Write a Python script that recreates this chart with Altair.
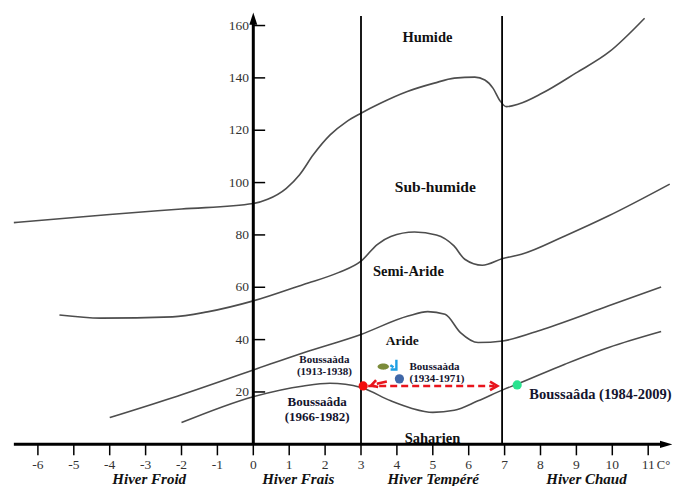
import altair as alt
import pandas as pd

# ---------------- data ----------------
c1_x = [-6.67, -4.0, -2.0, 0.0, 0.4, 0.92, 1.29, 1.67, 2.14, 2.6, 3.0, 3.54, 4.29, 5.04, 5.6, 6.17, 6.45, 6.68, 6.87, 7.05, 7.39, 8.04, 8.98, 9.92, 10.9]
c1_y = [84.7, 87.8, 89.9, 92.0, 93.6, 97.8, 103.0, 110.6, 118.2, 123.3, 126.5, 130.3, 134.8, 138.0, 139.9, 140.3, 139.2, 136.0, 131.3, 129.0, 130.0, 134.1, 141.8, 150.0, 162.8]

c2_x = [-5.4, -4.25, -2.25, -1.28, 0.0, 1.4, 2.37, 3.0, 3.46, 3.83, 4.49, 5.1, 5.59, 5.89, 6.38, 6.95, 7.47, 8.68, 9.9, 11.6]
c2_y = [49.4, 48.2, 48.7, 50.6, 54.8, 61.1, 65.6, 70.0, 76.4, 79.4, 81.1, 80.0, 75.8, 70.7, 68.4, 71.0, 72.6, 79.6, 87.3, 99.4]

c3_x = [-4.0, -2.25, 0.0, 1.4, 3.0, 4.31, 4.86, 5.34, 5.77, 6.26, 6.95, 8.08, 9.9, 11.36]
c3_y = [10.2, 17.8, 28.4, 35.0, 42.0, 49.0, 50.7, 49.7, 42.7, 38.9, 39.5, 44.0, 52.9, 60.1]

c4_x = [-2.0, 0.0, 1.4, 2.13, 3.0, 3.83, 4.4, 5.0, 5.6, 6.26, 6.95, 7.35, 8.68, 9.9, 11.36]
c4_y = [8.3, 18.2, 22.3, 23.3, 21.7, 16.6, 13.8, 12.2, 13.0, 16.6, 20.8, 23.0, 30.6, 37.0, 43.1]

y_ticks = [20, 40, 60, 80, 100, 120, 140, 160]
x_ticks = [-6, -5, -4, -3, -2, -1, 0, 1, 2, 3, 4, 5, 6, 7, 8, 9, 10, 11]
x_tick_labels = ["-6", "-5", "-4", "-3", "-2", "-1", "0", "1", "2", "3", "4", "5", "6", "7", "8", "9", "10", "11"]
bounds_x = [3.0, 6.93]

zone_names = ["Humide", "Sub-humide", "Semi-Aride", "Aride", "Saharien"]
zone_x = [4.85, 5.07, 4.32, 4.15, 4.99]
zone_y = [155.3, 98.4, 65.9, 39.5, 1.9]
zone_fs = [14.5, 15.5, 14.5, 13.5, 14.5]

winter_names = ["Hiver Froid", "Hiver Frais", "Hiver Tempéré", "Hiver Chaud"]
winter_x = [-2.9, 1.25, 5.01, 9.28]

st_text = ["Boussaàda", "(1913-1938)", "Boussaàda", "(1934-1971)", "Boussaâda", "(1966-1982)", "Boussaâda (1984-2009)"]
st_x = [1.98, 1.98, 4.35, 4.35, 1.78, 1.78, 7.69]
st_y = [32.3, 27.7, 29.6, 25.0, 16.2, 10.5, 19.0]
st_align = ["center", "center", "left", "left", "center", "center", "left"]
st_fs = [11, 11, 11, 11, 13, 13, 14.5]

pt_x = [3.06, 7.35, 4.07]
pt_y = [22.3, 22.7, 25.0]
pt_col = ["#f20d0d", "#29e38f", "#3f67a8"]

# ---------------- layout ----------------
W, H = 664, 478
XMIN, XMAX = -6.833, 11.663
YMIN, YMAX = -15.93, 166.7
xs = alt.Scale(domain=[XMIN, XMAX], nice=False, zero=False)
ys = alt.Scale(domain=[YMIN, YMAX], nice=False, zero=False)
SERIF = "Liberation Serif"


def X(f="x"):
    return alt.X(f + ":Q", scale=xs, axis=None)


def Y(f="y"):
    return alt.Y(f + ":Q", scale=ys, axis=None)


rows = []
for cid, (xx, yy) in enumerate([(c1_x, c1_y), (c2_x, c2_y), (c3_x, c3_y), (c4_x, c4_y)]):
    for i, (a, b) in enumerate(zip(xx, yy)):
        rows.append({"curve": cid, "i": i, "x": a, "y": b})
curves_df = pd.DataFrame(rows)

curves = alt.Chart(curves_df).mark_line(color="#4d4d4d", strokeWidth=1.6, interpolate="monotone").encode(
    x=X(), y=Y(), detail="curve:N", order="i:Q")

zones = alt.Chart(pd.DataFrame({"t": zone_names, "x": zone_x, "y": zone_y, "fs": zone_fs})).mark_text(
    font=SERIF, fontWeight="bold", color="#111", baseline="middle", align="center").encode(
    x=X(), y=Y(), text="t:N", size=alt.Size("fs:Q", scale=None))

vlines = alt.Chart(pd.DataFrame({"x": bounds_x, "y": [0, 0], "y2": [163.6, 163.6]})).mark_rule(
    color="black", strokeWidth=1.8).encode(x=X(), y=Y(), y2="y2:Q")

xaxis = alt.Chart(pd.DataFrame({"x": [-6.67], "x2": [11.45], "y": [0]})).mark_rule(
    color="black", strokeWidth=3).encode(x=X(), x2="x2:Q", y=Y())
yaxis = alt.Chart(pd.DataFrame({"x": [0], "y": [0], "y2": [162.0]})).mark_rule(
    color="black", strokeWidth=3).encode(x=X(), y=Y(), y2="y2:Q")

arrow_x = alt.Chart(pd.DataFrame({"x": [11.5], "y": [0]})).mark_point(
    shape="M -1 -0.6 L 1 0 L -1 0.6 Z", filled=True, color="black", opacity=1, size=150).encode(x=X(), y=Y())
arrow_y = alt.Chart(pd.DataFrame({"x": [0], "y": [162.6]})).mark_point(
    shape="M -0.65 1 L 0 -1 L 0.65 1 Z", filled=True, color="black", opacity=1, size=150).encode(x=X(), y=Y())

yt = alt.Chart(pd.DataFrame({"y": y_ticks, "x": [0] * len(y_ticks), "x2": [0.33] * len(y_ticks)})).mark_rule(
    color="black", strokeWidth=1.5).encode(x=X(), x2="x2:Q", y=Y())
yt_lab = alt.Chart(pd.DataFrame({"y": y_ticks, "x": [-0.12] * len(y_ticks), "t": [str(v) for v in y_ticks]})).mark_text(
    font=SERIF, fontSize=13.5, color="#333", align="right", baseline="middle").encode(x=X(), y=Y(), text="t:N")

xt = alt.Chart(pd.DataFrame({"x": x_ticks, "y": [0] * len(x_ticks), "y2": [-4.2] * len(x_ticks)})).mark_rule(
    color="black", strokeWidth=1.5).encode(x=X(), y=Y(), y2="y2:Q")
xt_lab = alt.Chart(pd.DataFrame({"x": x_ticks, "y": [-7.9] * len(x_ticks), "t": x_tick_labels})).mark_text(
    font=SERIF, fontSize=13.5, color="#333", align="center", baseline="middle").encode(x=X(), y=Y(), text="t:N")
unit_lab = alt.Chart(pd.DataFrame({"x": [11.24], "y": [-7.9], "t": ["C°"]})).mark_text(
    font=SERIF, fontSize=12.5, color="#333", align="left", baseline="middle").encode(x=X(), y=Y(), text="t:N")

winters = alt.Chart(pd.DataFrame({"t": winter_names, "x": winter_x, "y": [-13.4] * 4})).mark_text(
    font=SERIF, fontSize=15, fontWeight="bold", fontStyle="italic", color="#111", align="center",
    baseline="middle").encode(x=X(), y=Y(), text="t:N")

st_layers = []
for al in ["center", "left"]:
    d = pd.DataFrame({"t": st_text, "x": st_x, "y": st_y, "a": st_align, "fs": st_fs})
    d = d[d["a"] == al]
    st_layers.append(alt.Chart(d).mark_text(
        font=SERIF, fontWeight="bold", color="#14142e", align=al, baseline="middle").encode(
        x=X(), y=Y(), text="t:N", size=alt.Size("fs:Q", scale=None)))

# dashed arrows
dash_long = alt.Chart(pd.DataFrame({"x": [3.2], "x2": [6.72], "y": [22.3]})).mark_rule(
    color="#e8141c", strokeWidth=2.6, strokeDash=[7, 4]).encode(x=X(), x2="x2:Q", y=Y())
dash_short = alt.Chart(pd.DataFrame({"x": [3.44], "x2": [3.72], "y": [23.1], "y2": [24.0]})).mark_rule(
    color="#e8141c", strokeWidth=2.6).encode(x=X(), x2="x2:Q", y=Y(), y2="y2:Q")
head_r = alt.Chart(pd.DataFrame({"x": [6.74], "y": [22.3]})).mark_point(
    shape="M -1 -0.8 L 0.4 0 L -1 0.8", filled=False, color="#e8141c", strokeWidth=2.6, opacity=1, size=110).encode(
    x=X(), y=Y())
head_l = alt.Chart(pd.DataFrame({"x": [3.33], "y": [22.7]})).mark_point(
    shape="M 1 -0.8 L -0.4 0 L 1 0.8", filled=False, color="#e8141c", strokeWidth=2.6, opacity=1, size=80,
    angle=343).encode(x=X(), y=Y())

pts = alt.Chart(pd.DataFrame({"x": pt_x, "y": pt_y, "c": pt_col})).mark_point(
    shape="circle", filled=True, opacity=1, size=85).encode(
    x=X(), y=Y(), color=alt.Color("c:N", scale=None))

olive = alt.Chart(pd.DataFrame({"x": [3.62], "y": [29.7]})).mark_point(
    shape="M -1 0 A 1 0.55 0 1 0 1 0 A 1 0.55 0 1 0 -1 0 Z", filled=True, color="#7b8b3a", opacity=1,
    size=130).encode(x=X(), y=Y())
cyan = alt.Chart(pd.DataFrame({"x": [3.92], "y": [30.3]})).mark_point(
    shape="M 0.45 -1 L 0.45 0.85 L -0.65 0.85 M -0.7 0.05 L -0.1 0.45", filled=False, color="#1e9fe3",
    strokeWidth=2.4, opacity=1, size=110).encode(x=X(), y=Y())

chart = alt.layer(
    curves, zones, vlines, yt, xt, xaxis, yaxis, arrow_x, arrow_y, yt_lab, xt_lab, unit_lab, winters,
    *st_layers, dash_long, dash_short, head_r, head_l, olive, cyan, pts
).properties(
    width=W, height=H, padding=0, autosize=alt.AutoSizeParams(type="none")
).configure_view(stroke=None)

chart.save("out.html", embed_options={"renderer": "svg", "actions": False})
